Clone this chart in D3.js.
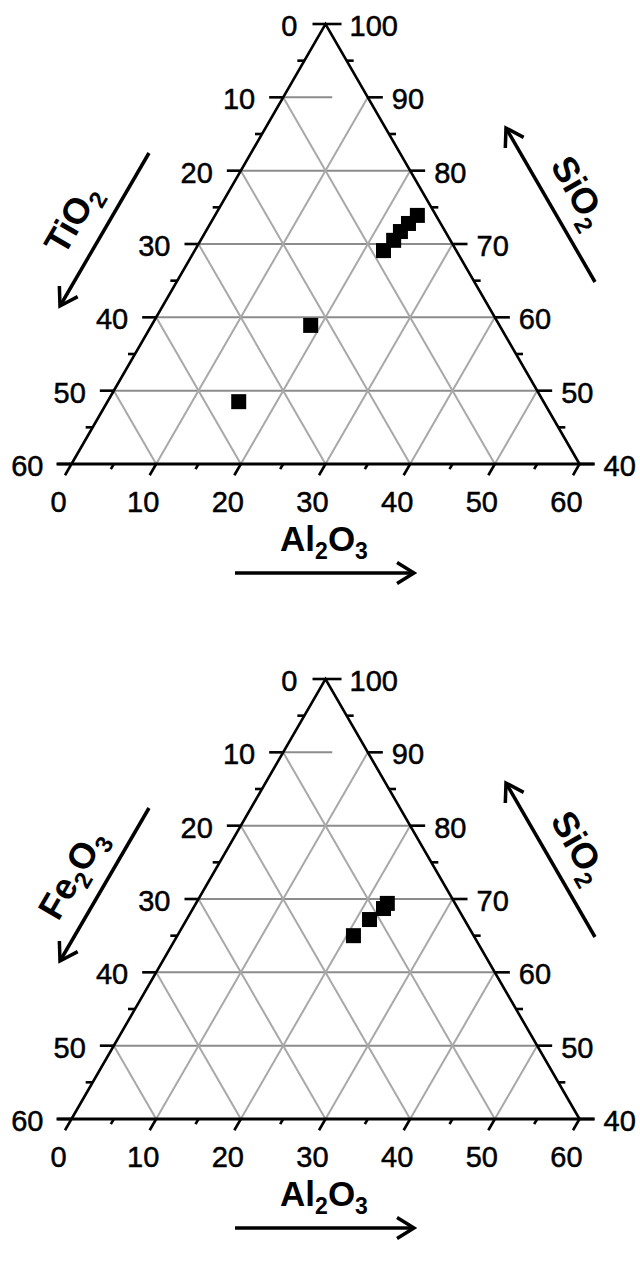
<!DOCTYPE html>
<html>
<head>
<meta charset="utf-8">
<script src="https://cdn.jsdelivr.net/npm/d3@7"></script>
<style>
  html, body { margin: 0; padding: 0; background: #fff; }
  svg { display: block; }
</style>
</head>
<body>
<div id="chart"></div>
<script>
// ---------- data ----------
// Panel 1: TiO2 – Al2O3 – SiO2 (wt %)
const p1TiO2  = [2.2, 3.8, 5.3, 6.7, 8.6, 22.3, 36.0];
const p1Al2O3 = [23.9, 23.4, 23.0, 22.8, 22.3, 18.8, 15.5];
const p1SiO2  = [73.9, 72.8, 71.7, 70.5, 69.1, 58.9, 48.5];
// Panel 2: Fe2O3 – Al2O3 – SiO2 (wt %)
const p2Fe2O3 = [8.0, 8.8, 11.2, 14.2];
const p2Al2O3 = [22.6, 22.5, 21.6, 20.8];
const p2SiO2  = [69.4, 68.7, 67.2, 65.0];

const leftTicks   = [0, 10, 20, 30, 40, 50, 60];      // TiO2 / Fe2O3
const rightTicks  = [100, 90, 80, 70, 60, 50, 40];    // SiO2
const bottomTicks = [0, 10, 20, 30, 40, 50, 60];      // Al2O3
const gridLevels  = [10, 20, 30, 40, 50];

const panels = [
  { left: [["TiO", false], ["2", true]],  t: p1TiO2,  a: p1Al2O3, s: p1SiO2, offset: 0 },
  { left: [["Fe", false], ["2", true], ["O", false], ["3", true]], t: p2Fe2O3, a: p2Al2O3, s: p2SiO2, offset: 655 }
];
const siLabel = [["SiO", false], ["2", true]];
const alLabel = [["Al", false], ["2", true], ["O", false], ["3", true]];

// ---------- drawing ----------
const W = 640, H = 1265;
const svg = d3.select("#chart").append("svg").attr("width", W).attr("height", H);

const topY = 24, baseY = 464;
const y = d3.scaleLinear().domain([100, 40]).range([topY, baseY]);   // SiO2 level
const x = d3.scaleLinear().domain([-60, 60]).range([71.5, 579.5]);   // Al2O3 - TiO2
const pt = (t, a) => [x(a - t), y(100 - t - a)];

const FONT = "'Liberation Sans', Arial, Helvetica, sans-serif";
const TICK_FS = 29;

function richText(g, parts, size, subSize, shift) {
  const txt = g.append("text")
    .attr("text-anchor", "middle")
    .attr("font-family", FONT)
    .attr("font-weight", "bold")
    .attr("font-size", size)
    .attr("fill", "#000");
  let cur = 0;
  parts.forEach(([s, sub]) => {
    const target = sub ? shift : 0;
    txt.append("tspan")
      .attr("dy", target - cur)
      .attr("font-size", sub ? subSize : size)
      .text(s);
    cur = target;
  });
  return txt;
}

function tickText(g, x0, y0, anchor, v) {
  g.append("text").attr("x", x0).attr("y", y0)
    .attr("text-anchor", anchor).attr("font-family", FONT).attr("font-size", TICK_FS)
    .attr("fill", "#000").attr("stroke", "#000").attr("stroke-width", 0.5)
    .text(v);
}

function arrow(g, x1, y1, x2, y2) {
  g.append("line").attr("x1", x1).attr("y1", y1).attr("x2", x2).attr("y2", y2)
    .attr("stroke", "#000").attr("stroke-width", 3.5);
  const ang = Math.atan2(y1 - y2, x1 - x2);
  const L = 20, sp = 32 * Math.PI / 180;
  const p = d3.path();
  p.moveTo(x2 + L * Math.cos(ang + sp), y2 + L * Math.sin(ang + sp));
  p.lineTo(x2, y2);
  p.lineTo(x2 + L * Math.cos(ang - sp), y2 + L * Math.sin(ang - sp));
  g.append("path").attr("d", p.toString()).attr("fill", "none")
    .attr("stroke", "#000").attr("stroke-width", 3.5).attr("stroke-linejoin", "miter");
}

panels.forEach(P => {
  const g = svg.append("g").attr("transform", `translate(0,${P.offset})`);

  // grid: lines of constant SiO2 (horizontal)
  gridLevels.forEach(v => {
    const [xa, ya] = pt(v, 0);
    const [xb, yb] = v === 10 ? pt(v - 5.8, 5.8) : pt(0, v);
    g.append("line").attr("x1", xa).attr("y1", ya).attr("x2", xb).attr("y2", yb)
      .attr("stroke", "#8c8c8c").attr("stroke-width", 2);
  });
  // grid: constant TiO2 (left edge -> bottom) and constant Al2O3 (bottom -> right edge)
  gridLevels.forEach(v => {
    let [x1, y1] = pt(v, 0), [x2, y2] = pt(v, 60 - v);
    g.append("line").attr("x1", x1).attr("y1", y1).attr("x2", x2).attr("y2", y2)
      .attr("stroke", "#a8a8a8").attr("stroke-width", 2);
    [x1, y1] = pt(60 - v, v); [x2, y2] = pt(0, v);
    g.append("line").attr("x1", x1).attr("y1", y1).attr("x2", x2).attr("y2", y2)
      .attr("stroke", "#a8a8a8").attr("stroke-width", 2);
  });

  // triangle edges
  const A = pt(0, 0), BL = pt(60, 0), BR = pt(0, 60);
  g.append("path").attr("d", `M${BL}L${A}L${BR}`).attr("fill", "none")
    .attr("stroke", "#000").attr("stroke-width", 2.6).attr("stroke-linejoin", "miter");
  g.append("line").attr("x1", BL[0] - 15).attr("x2", BR[0] + 15)
    .attr("y1", baseY).attr("y2", baseY).attr("stroke", "#000").attr("stroke-width", 3.2);

  // left ticks + labels
  d3.range(0, 61, 5).forEach(v => {
    const [ex, ey] = pt(v, 0);
    const major = v % 10 === 0;
    g.append("line").attr("x1", ex - (major ? (v === 0 ? 13 : 14) : 7)).attr("x2", ex)
      .attr("y1", ey).attr("y2", ey).attr("stroke", "#000").attr("stroke-width", 2.6);
  });
  leftTicks.forEach(v => {
    const [ex, ey] = pt(v, 0);
    tickText(g, ex - 28, ey + 12, "end", v);
  });

  // right ticks + labels
  d3.range(0, 61, 5).forEach(v => {
    const [ex, ey] = pt(0, v);
    const major = v % 10 === 0;
    g.append("line").attr("x1", ex).attr("x2", ex + (major ? (v === 0 ? 16 : 15) : 7))
      .attr("y1", ey).attr("y2", ey).attr("stroke", "#000").attr("stroke-width", 2.6);
  });
  rightTicks.forEach(v => {
    const [ex, ey] = pt(0, 100 - v);
    tickText(g, ex + 24, ey + 12, "start", v);
  });

  // bottom ticks (parallel to left edge) + labels
  d3.range(0, 61, 5).forEach(v => {
    const [bx, by] = pt(60 - v, v);
    const len = v % 10 === 0 ? 13 : 6;
    g.append("line").attr("x1", bx).attr("y1", by)
      .attr("x2", bx - len * 0.5).attr("y2", by + len * 0.866)
      .attr("stroke", "#000").attr("stroke-width", 2.6);
  });
  bottomTicks.forEach(v => {
    const [bx, by] = pt(60 - v, v);
    tickText(g, bx - 13, by + 48, "middle", v);
  });

  // data points
  g.selectAll("rect.pt").data(P.t.map((t, i) => ({ t, a: P.a[i], s: P.s[i] })))
    .enter().append("rect")
    .attr("x", d => x(d.a - d.t) - 7.5)
    .attr("y", d => y(d.s) - 7.5)
    .attr("width", 15).attr("height", 15).attr("fill", "#000");

  // axis arrows
  arrow(g, 149, 153, 60, 306);
  arrow(g, 595, 282, 506, 128);
  arrow(g, 235, 573, 414, 573);

  // axis titles
  const lt = g.append("g").attr("transform", "translate(72,219) rotate(-60)");
  richText(lt, P.left, 36, 24, 9).attr("y", 12);
  const rt = g.append("g").attr("transform", "translate(579,192) rotate(60)");
  richText(rt, siLabel, 36, 24, 9).attr("y", 12);
  const bt = g.append("g").attr("transform", "translate(324,551)");
  richText(bt, alLabel, 35, 23, 8).attr("y", 0);
});
</script>
</body>
</html>
